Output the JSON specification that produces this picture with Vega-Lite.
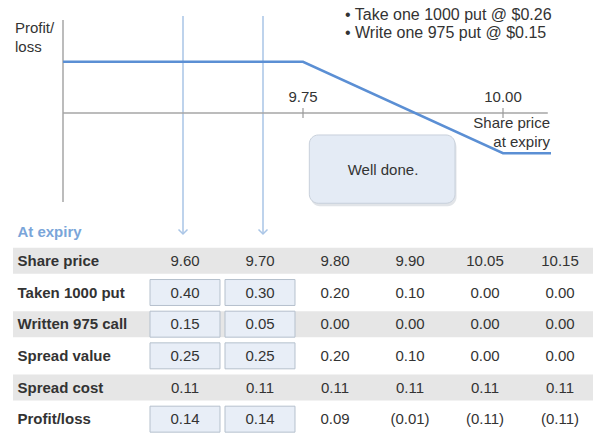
{
  "$schema": "https://vega.github.io/schema/vega-lite/v6.json",
  "padding": {"left": 13, "right": 8, "top": 0, "bottom": 0},
  "spacing": 0,
  "config": {
    "view": {"stroke": null},
    "font": "Liberation Sans",
    "text": {"font": "Liberation Sans", "fontSize": 15, "color": "#333333"}
  },
  "datasets": {
    "payoff": [
      {"price": 9.45, "pl": 0.14},
      {"price": 9.75, "pl": 0.14},
      {"price": 10.0, "pl": -0.11},
      {"price": 10.06, "pl": -0.11}
    ],
    "guides": [{"price": 9.6}, {"price": 9.7}],
    "ticks": [{"tick": 9.75}, {"tick": 10.0}],
    "one": [{}],
    "table": [
      {"row": "Share price", "price": "9.60", "value": 9.6},
      {"row": "Share price", "price": "9.70", "value": 9.7},
      {"row": "Share price", "price": "9.80", "value": 9.8},
      {"row": "Share price", "price": "9.90", "value": 9.9},
      {"row": "Share price", "price": "10.05", "value": 10.05},
      {"row": "Share price", "price": "10.15", "value": 10.15},
      {"row": "Taken 1000 put", "price": "9.60", "value": 0.4},
      {"row": "Taken 1000 put", "price": "9.70", "value": 0.3},
      {"row": "Taken 1000 put", "price": "9.80", "value": 0.2},
      {"row": "Taken 1000 put", "price": "9.90", "value": 0.1},
      {"row": "Taken 1000 put", "price": "10.05", "value": 0},
      {"row": "Taken 1000 put", "price": "10.15", "value": 0},
      {"row": "Written 975 call", "price": "9.60", "value": 0.15},
      {"row": "Written 975 call", "price": "9.70", "value": 0.05},
      {"row": "Written 975 call", "price": "9.80", "value": 0},
      {"row": "Written 975 call", "price": "9.90", "value": 0},
      {"row": "Written 975 call", "price": "10.05", "value": 0},
      {"row": "Written 975 call", "price": "10.15", "value": 0},
      {"row": "Spread value", "price": "9.60", "value": 0.25},
      {"row": "Spread value", "price": "9.70", "value": 0.25},
      {"row": "Spread value", "price": "9.80", "value": 0.2},
      {"row": "Spread value", "price": "9.90", "value": 0.1},
      {"row": "Spread value", "price": "10.05", "value": 0},
      {"row": "Spread value", "price": "10.15", "value": 0},
      {"row": "Spread cost", "price": "9.60", "value": 0.11},
      {"row": "Spread cost", "price": "9.70", "value": 0.11},
      {"row": "Spread cost", "price": "9.80", "value": 0.11},
      {"row": "Spread cost", "price": "9.90", "value": 0.11},
      {"row": "Spread cost", "price": "10.05", "value": 0.11},
      {"row": "Spread cost", "price": "10.15", "value": 0.11},
      {"row": "Profit/loss", "price": "9.60", "value": 0.14},
      {"row": "Profit/loss", "price": "9.70", "value": 0.14},
      {"row": "Profit/loss", "price": "9.80", "value": 0.09},
      {"row": "Profit/loss", "price": "9.90", "value": -0.01},
      {"row": "Profit/loss", "price": "10.05", "value": -0.11},
      {"row": "Profit/loss", "price": "10.15", "value": -0.11}
    ]
  },
  "vconcat": [
    {
      "width": 580,
      "height": 245,
      "layer": [
        {
          "data": {"name": "guides"},
          "mark": {"type": "rule", "color": "#a9c5e6", "strokeWidth": 1.5},
          "encoding": {
            "x": {"field": "price", "type": "quantitative", "scale": {"domain": [9.3875, 10.1125], "nice": false, "zero": false}, "axis": null},
            "y": {"datum": 0.265, "type": "quantitative", "scale": {"domain": [-0.3607, 0.3087], "nice": false, "zero": false}, "axis": null},
            "y2": {"datum": -0.328}
          }
        },
        {
          "data": {"name": "guides"},
          "mark": {"type": "point", "shape": "M-1,-1L0,0L1,-1", "filled": false, "stroke": "#a9c5e6", "strokeWidth": 1.5, "size": 81, "opacity": 1},
          "encoding": {
            "x": {"field": "price", "type": "quantitative"},
            "y": {"datum": -0.3306, "type": "quantitative"}
          }
        },
        {
          "data": {"name": "one"},
          "mark": {"type": "rule", "color": "#a6a6a6", "strokeWidth": 1.5},
          "encoding": {
            "x": {"datum": 9.45, "type": "quantitative"},
            "y": {"datum": 0.2541, "type": "quantitative"},
            "y2": {"datum": -0.2432}
          }
        },
        {
          "data": {"name": "one"},
          "mark": {"type": "rule", "color": "#a6a6a6", "strokeWidth": 1.5},
          "encoding": {
            "x": {"datum": 9.45, "type": "quantitative"},
            "x2": {"datum": 10.056},
            "y": {"datum": 0, "type": "quantitative"}
          }
        },
        {
          "data": {"name": "ticks"},
          "mark": {"type": "rule", "color": "#999999", "strokeWidth": 1.2},
          "encoding": {
            "x": {"field": "tick", "type": "quantitative"},
            "y": {"datum": 0.0137, "type": "quantitative"},
            "y2": {"datum": -0.0137}
          }
        },
        {
          "data": {"name": "ticks"},
          "mark": {"type": "text", "align": "center", "baseline": "alphabetic", "fontSize": 15},
          "encoding": {
            "x": {"field": "tick", "type": "quantitative"},
            "y": {"datum": 0.0301, "type": "quantitative"},
            "text": {"field": "tick", "type": "quantitative", "format": ".2f"}
          }
        },
        {
          "data": {"name": "payoff"},
          "mark": {"type": "line", "color": "#5b8fd4", "strokeWidth": 2.5},
          "encoding": {
            "x": {"field": "price", "type": "quantitative"},
            "y": {"field": "pl", "type": "quantitative"}
          }
        },
        {
          "data": {"name": "one"},
          "mark": {"type": "rect", "fill": "#c9ced6", "opacity": 0.55, "cornerRadius": 9, "xOffset": 1.5, "x2Offset": 1.5, "yOffset": 3, "y2Offset": 3},
          "encoding": {
            "x": {"datum": 9.7579, "type": "quantitative"},
            "x2": {"datum": 9.94},
            "y": {"datum": -0.0601, "type": "quantitative"},
            "y2": {"datum": -0.2467}
          }
        },
        {
          "data": {"name": "one"},
          "mark": {"type": "rect", "fill": "#e4ebf5", "stroke": "#c8d0db", "strokeWidth": 1, "cornerRadius": 9},
          "encoding": {
            "x": {"datum": 9.7579, "type": "quantitative"},
            "x2": {"datum": 9.94},
            "y": {"datum": -0.0601, "type": "quantitative"},
            "y2": {"datum": -0.2467}
          }
        },
        {
          "data": {"name": "one"},
          "mark": {"type": "text", "text": "Well done.", "align": "center", "baseline": "middle", "fontSize": 15},
          "encoding": {
            "x": {"datum": 9.85, "type": "quantitative"},
            "y": {"datum": -0.1571, "type": "quantitative"}
          }
        },
        {
          "data": {"name": "one"},
          "mark": {"type": "text", "text": ["Profit/", "loss"], "align": "left", "baseline": "alphabetic", "lineHeight": 18.4, "fontSize": 15},
          "encoding": {
            "x": {"datum": 9.39, "type": "quantitative"},
            "y": {"datum": 0.2178, "type": "quantitative"}
          }
        },
        {
          "data": {"name": "one"},
          "mark": {"type": "text", "text": ["• Take one 1000 put @ $0.26", "• Write one 975 put @ $0.15"], "align": "left", "baseline": "alphabetic", "lineHeight": 18.3, "fontSize": 16},
          "encoding": {
            "x": {"datum": 9.8025, "type": "quantitative"},
            "y": {"datum": 0.2541, "type": "quantitative"}
          }
        },
        {
          "data": {"name": "one"},
          "mark": {"type": "text", "text": ["Share price", "at expiry"], "align": "right", "baseline": "alphabetic", "lineHeight": 19, "fontSize": 15},
          "encoding": {
            "x": {"datum": 10.0588, "type": "quantitative"},
            "y": {"datum": -0.0418, "type": "quantitative"}
          }
        },
        {
          "data": {"name": "one"},
          "mark": {"type": "text", "text": "At expiry", "align": "left", "baseline": "alphabetic", "fontSize": 15, "fontWeight": "bold", "color": "#7aa5d9"},
          "encoding": {
            "x": {"datum": 9.393, "type": "quantitative"},
            "y": {"datum": -0.338, "type": "quantitative"}
          }
        }
      ]
    },
    {
      "width": 580,
      "height": 188,
      "layer": [
        {
          "data": {"values": [{"row": "Share price"}, {"row": "Written 975 call"}, {"row": "Spread cost"}]},
          "mark": {"type": "rect", "color": "#e6e6e6"},
          "encoding": {
            "y": {
              "field": "row", "type": "nominal",
              "scale": {"type": "band", "domain": ["Share price", "Taken 1000 put", "Written 975 call", "Spread value", "Spread cost", "Profit/loss"], "range": [0, 190], "paddingInner": 0.18, "paddingOuter": 0.09},
              "axis": {"orient": "left", "offset": -4, "title": null, "domain": false, "ticks": false, "tickSize": 0, "labelPadding": 0, "labelAlign": "left", "labelBaseline": "middle", "labelFontSize": 15, "labelFontWeight": "bold", "labelColor": "#333333", "labelFont": "Liberation Sans", "labelLimit": 300}
            }
          }
        },
        {
          "data": {"name": "table"},
          "transform": [
            {"filter": "(datum.price === '9.60' || datum.price === '9.70') && datum.row !== 'Share price' && datum.row !== 'Spread cost'"}
          ],
          "mark": {"type": "rect", "fill": "#e8eef7", "stroke": "#b5c0cd", "strokeWidth": 1},
          "encoding": {
            "x": {
              "field": "price", "type": "nominal",
              "scale": {"type": "band", "domain": ["9.60", "9.70", "9.80", "9.90", "10.05", "10.15"], "range": [134.5, 584.5], "paddingInner": 0.067, "paddingOuter": 0.0335},
              "axis": null
            },
            "y": {
              "field": "row", "type": "nominal",
              "axis": {"orient": "left", "offset": -4, "title": null, "domain": false, "ticks": false, "tickSize": 0, "labelPadding": 0, "labelAlign": "left", "labelBaseline": "middle", "labelFontSize": 15, "labelFontWeight": "bold", "labelColor": "#333333", "labelFont": "Liberation Sans", "labelLimit": 300}
            }
          }
        },
        {
          "data": {"name": "table"},
          "transform": [
            {"calculate": "datum.value < 0 ? '(' + format(-datum.value, '.2f') + ')' : format(datum.value, '.2f')", "as": "label"}
          ],
          "mark": {"type": "text", "align": "center", "baseline": "middle", "fontSize": 15},
          "encoding": {
            "x": {"field": "price", "type": "nominal", "axis": null},
            "y": {
              "field": "row", "type": "nominal",
              "axis": {"orient": "left", "offset": -4, "title": null, "domain": false, "ticks": false, "tickSize": 0, "labelPadding": 0, "labelAlign": "left", "labelBaseline": "middle", "labelFontSize": 15, "labelFontWeight": "bold", "labelColor": "#333333", "labelFont": "Liberation Sans", "labelLimit": 300}
            },
            "text": {"field": "label", "type": "nominal"}
          }
        }
      ]
    }
  ]
}
